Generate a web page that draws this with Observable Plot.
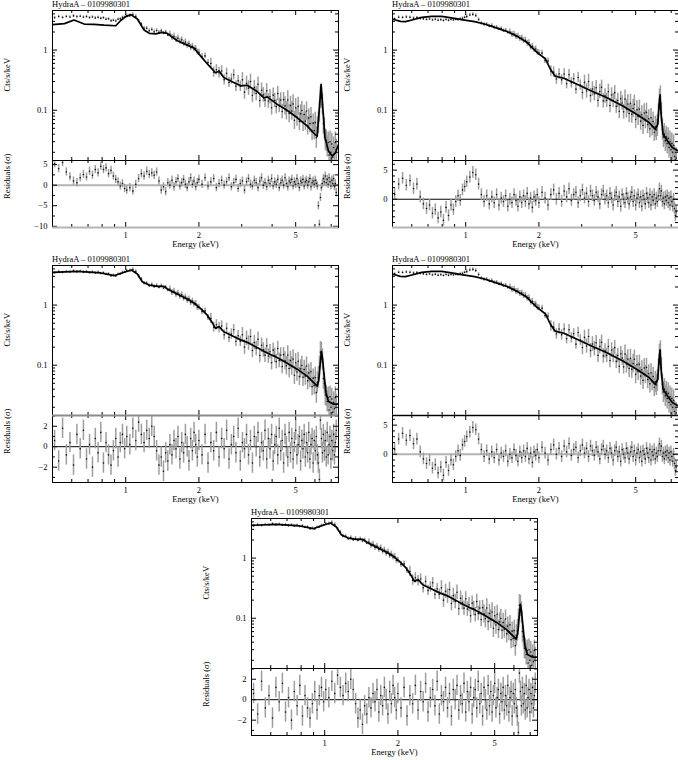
<!DOCTYPE html>
<html><head><meta charset="utf-8">
<script src="https://cdn.jsdelivr.net/npm/d3@7"></script>
<script src="https://cdn.jsdelivr.net/npm/@observablehq/plot@0.6"></script>
<style>
body{margin:0;background:#fff;}
#root{position:relative;width:678px;height:760px;overflow:hidden;background:#fff;font-family:"Liberation Serif","DejaVu Serif",serif;color:#000;}
.title{position:absolute;font-size:8.5px;line-height:9px;white-space:nowrap;}
</style></head><body><div id="root"></div>
<script>
// ---------- data ----------
const titleText = "HydraA \u2013 0109980301";
const xLabel = "Energy (keV)";
const specLabel = "Cts/s/keV";
const resLabel = "Residuals (\u03c3)";

const energies = [
0.51,0.53,0.55,0.57,0.59,0.61,0.63,0.65,0.67,0.69,
0.71,0.73,0.75,0.77,0.79,0.81,0.83,0.85,0.87,0.89,
0.91,0.93,0.95,0.97,0.99,
1.01,1.04,1.07,1.10,1.13,1.16,1.19,1.22,1.25,1.28,
1.31,1.34,1.37,1.40,1.43,1.46,1.49,1.52,1.55,1.58,
1.61,1.64,1.67,1.70,1.73,1.76,1.79,1.82,1.85,1.88,
1.91,1.94,1.97,
2.00,2.06,2.12,2.18,2.24,2.30,2.36,2.42,2.48,2.54,
2.60,2.66,2.72,2.78,2.84,2.90,2.96,3.02,3.08,3.14,
3.20,3.26,3.32,3.38,3.44,3.50,3.56,3.62,3.68,3.74,
3.80,3.86,3.92,3.98,4.04,4.10,4.16,4.22,4.28,4.34,
4.40,4.46,4.52,4.58,4.64,4.70,4.76,4.82,4.88,4.94,
5.00,5.06,5.12,5.18,5.24,5.30,5.36,5.42,5.48,5.54,
5.60,5.66,5.72,5.78,5.84,5.90,5.96,6.02,6.08,6.14,
6.20,6.26,6.32,6.38,6.44,6.50,6.56,6.62,6.68,6.74,
6.80,6.86,6.92,6.98,7.04,7.10,7.16,7.22,7.28,7.34];

// observation A (left panels and bottom panel)
const countsA = [
3.45,3.60,3.48,3.62,3.55,3.70,3.58,3.66,3.52,3.60,
3.46,3.55,3.42,3.50,3.36,3.44,3.25,3.30,3.06,3.14,
3.05,3.26,3.30,3.50,3.52,
3.70,3.72,3.90,3.60,3.02,2.70,2.30,2.30,2.10,2.20,
2.02,2.12,1.98,2.10,1.92,2.00,1.78,1.85,1.62,1.70,
1.50,1.58,1.40,1.48,1.30,1.36,1.20,1.27,1.10,1.16,
1.04,1.06,0.92,
0.92,0.78,0.80,0.62,0.60,0.43,0.47,0.42,0.45,0.32,
0.41,0.29,0.33,0.39,0.25,0.31,0.25,0.32,0.20,0.28,
0.233,0.30,0.176,0.238,0.19,0.27,0.145,0.215,0.18,0.147,
0.21,0.142,0.168,0.11,0.178,0.145,0.115,0.19,0.12,0.148,
0.095,0.15,0.118,0.098,0.148,0.088,0.12,0.097,0.127,0.068,
0.11,0.077,0.116,0.065,0.087,0.099,0.063,0.085,0.066,0.097,
0.055,0.074,0.06,0.078,0.044,0.061,0.046,0.062,0.035,0.052,
0.062,0.095,0.165,0.16,0.125,0.06,0.05,0.032,0.031,0.025,
0.029,0.018,0.03,0.02,0.0275,0.0165,0.024,0.019,0.029,0.022];

// observation B (right panels)
const countsB = [
3.30,3.52,3.48,3.55,3.50,3.40,3.46,3.34,3.30,3.22,
3.28,3.16,3.24,3.12,3.20,3.10,3.22,3.12,3.22,3.16,
3.24,3.20,3.30,3.38,3.50,
3.60,3.82,3.92,3.74,3.22,2.78,2.66,2.68,2.52,2.56,
2.38,2.40,2.24,2.28,2.10,2.14,1.96,2.00,1.82,1.84,
1.68,1.70,1.56,1.58,1.44,1.46,1.30,1.32,1.12,1.16,
1.02,1.04,0.92,
0.90,0.89,0.67,0.66,0.45,0.43,0.33,0.40,0.32,0.40,
0.276,0.39,0.285,0.333,0.224,0.35,0.262,0.197,0.29,0.209,
0.30,0.175,0.226,0.188,0.237,0.146,0.204,0.24,0.143,0.173,
0.146,0.205,0.12,0.179,0.145,0.196,0.116,0.145,0.096,0.155,
0.132,0.094,0.153,0.105,0.127,0.088,0.13,0.086,0.107,0.126,
0.07,0.102,0.079,0.104,0.066,0.084,0.056,0.09,0.07,0.092,
0.058,0.072,0.049,0.075,0.053,0.065,0.043,0.053,0.047,0.055,
0.085,0.15,0.17,0.09,0.048,0.036,0.04,0.031,0.036,0.028,
0.034,0.024,0.03,0.022,0.028,0.02,0.026,0.017,0.015,0.016];

// fractional error half-width of the spectrum points, by energy band (upper band edge)
const errUpTo = [1.0, 1.5, 2.2, 3.0, 4.5, 6.0, 7.5];
const errFrac = [0.05, 0.07, 0.12, 0.22, 0.32, 0.42, 0.5];

// models
const model1E = [0.5,0.56,0.613,0.675,0.74,0.815,0.91,0.954,1.0,1.05,1.117,1.19,1.25,1.33,1.41,1.48,1.63,1.79,1.91,2.03,2.2,2.34,2.42,2.53,2.78,2.97,3.16,3.47,3.7,3.82,4.19,4.61,5.07,5.57,6.03,6.13,6.29,6.36,6.42,6.6,6.82,7.06,7.29,7.5];
const model1V = [2.64,2.75,3.16,2.71,2.68,2.6,2.54,3.1,3.6,3.88,3.28,2.15,1.9,1.86,1.97,1.9,1.43,1.21,1.08,0.8,0.55,0.42,0.45,0.35,0.29,0.255,0.26,0.205,0.16,0.167,0.126,0.1,0.075,0.055,0.039,0.037,0.143,0.27,0.163,0.035,0.021,0.0173,0.0196,0.027];
const model3E = [0.5,0.633,0.79,0.896,1.0,1.055,1.117,1.17,1.247,1.35,1.437,1.483,1.63,1.79,1.91,2.03,2.165,2.27,2.34,2.42,2.53,2.78,2.97,3.16,3.47,3.7,3.82,4.19,4.61,5.07,5.57,6.03,6.13,6.22,6.3,6.38,6.45,6.52,6.66,6.82,7.17,7.5];
const model3V = [3.5,3.64,3.42,3.08,3.59,3.83,3.28,2.45,2.15,2.05,2.05,1.85,1.53,1.26,1.08,0.88,0.68,0.51,0.41,0.44,0.36,0.30,0.264,0.24,0.197,0.17,0.16,0.134,0.108,0.086,0.066,0.048,0.045,0.055,0.1,0.17,0.13,0.08,0.035,0.025,0.0225,0.0225];
const modelBE = [0.5,0.511,0.539,0.565,0.601,0.66,0.725,0.796,0.874,0.96,1.088,1.195,1.354,1.487,1.63,1.79,1.85,1.97,2.13,2.23,2.33,2.53,2.77,3.24,3.79,4.43,5.18,5.69,6.02,6.16,6.25,6.3,6.36,6.48,6.75,7.07,7.5];
const modelBV = [3.25,3.2,3.0,2.97,3.16,3.5,3.64,3.64,3.42,3.2,2.97,2.71,2.3,2.02,1.69,1.34,1.15,0.91,0.71,0.48,0.37,0.34,0.29,0.215,0.163,0.118,0.08,0.062,0.048,0.058,0.134,0.18,0.086,0.04,0.031,0.024,0.021];

// residuals (sigma)
const resid1 = [
5.2,4.0,5.5,3.2,2.0,1.0,0.6,1.8,2.6,2.0,
3.4,2.4,3.8,3.0,4.6,3.8,4.2,2.8,3.6,2.2,
1.4,0.8,-0.2,0.4,-0.8,
-1.2,-0.6,-1.4,0.2,1.6,2.8,2.2,3.4,2.6,3.0,
2.4,3.2,1.0,-1.2,-0.4,-1.6,0.6,0.0,1.2,-0.4,
0.8,1.6,-0.2,0.6,1.4,0.2,-0.6,0.8,1.8,0.2,
1.0,-0.4,0.6,
1.4,0.2,1.8,-0.2,0.8,1.6,-0.6,0.4,1.2,0.0,
0.8,1.8,-0.4,0.6,1.4,-0.8,0.4,1.0,-1.2,0.8,
1.6,0.2,-0.2,1.2,0.6,-0.6,1.0,1.8,0.0,0.6,
-0.4,1.2,0.4,1.6,-0.2,0.8,0.2,1.4,-0.6,0.6,
1.2,0.0,1.8,0.4,-0.4,1.0,0.6,1.4,-0.2,0.8,
0.2,1.6,0.4,-0.6,1.0,0.6,1.4,-0.2,0.8,1.2,
0.0,0.8,1.6,-0.4,0.6,1.0,0.2,1.2,0.4,-0.2,
-5.0,-9.5,-3.0,-0.6,0.4,1.6,0.8,2.2,0.6,1.4,
0.2,1.8,0.8,-0.2,1.2,0.4,1.6,-0.4,0.4,-1.8];
const resid2 = [
0.8,2.6,3.6,2.4,3.2,1.8,2.6,0.4,-0.8,-1.6,
-1.0,-2.4,-1.8,-3.2,-2.2,-3.6,-1.4,-2.8,-1.0,-1.8,
-0.4,0.6,-0.2,1.6,2.2,
3.0,3.8,4.6,4.2,2.6,0.8,-0.4,0.6,-0.8,0.4,
-0.6,0.8,-1.0,0.2,-0.4,0.6,-1.2,0.0,-0.6,0.8,
-0.2,-1.2,0.4,-0.6,0.6,-0.4,1.0,-0.8,0.2,-1.4,
0.4,-0.2,0.8,
-0.6,1.2,0.2,-1.0,0.8,1.6,0.0,1.0,-0.4,1.4,
0.4,1.8,-0.2,0.8,1.2,-0.6,0.6,1.6,0.2,1.0,
-0.4,1.4,0.6,-0.2,1.2,0.4,-0.8,0.8,1.4,0.0,
0.6,-0.6,1.0,0.2,-1.0,0.6,1.2,-0.4,0.4,-1.2,
0.8,0.0,-0.6,1.0,0.2,-0.8,0.4,1.2,-0.4,0.6,
-1.0,0.2,0.8,-0.6,0.4,-1.2,0.6,0.0,-0.8,1.0,
0.2,-0.6,0.8,-1.0,0.4,-0.2,0.8,-0.8,0.2,-0.4,
0.6,1.8,0.6,1.4,-0.4,0.2,-0.8,0.4,-0.2,0.6,
-0.6,0.2,-1.0,0.4,-0.4,-1.2,0.0,-1.6,-2.8,-2.2];
const resid3 = [
0.6,-1.4,1.8,-0.8,0.4,-1.8,1.2,-0.2,1.6,-1.2,
0.2,-2.0,0.8,-0.6,1.4,-1.6,0.4,-0.8,-1.8,-0.4,
0.8,-1.0,0.4,1.2,-0.2,
1.0,0.2,1.8,0.6,2.4,1.2,0.4,1.6,0.8,2.0,
1.0,-0.4,-1.8,-1.0,-2.4,-0.6,-1.4,0.2,-0.8,0.6,
-0.2,1.0,-1.2,0.4,-0.6,1.2,0.0,-1.4,0.8,-0.4,
1.4,0.2,-1.0,
0.6,-0.8,1.2,-1.6,0.4,-0.4,1.4,-1.0,0.8,-0.2,
1.6,-1.2,0.2,1.0,-0.6,1.8,-1.4,0.4,-0.2,1.2,
-0.8,0.6,-1.6,1.0,0.0,1.4,-1.0,0.4,-0.4,1.6,
-1.2,0.8,-0.2,1.2,-1.4,0.2,1.0,-0.8,1.8,-0.4,
0.6,-1.6,1.2,0.0,-1.0,1.4,-0.6,0.8,-1.2,0.4,
1.6,-0.8,0.2,1.0,-1.4,0.6,-0.2,1.2,-1.0,0.4,
-0.6,1.4,-1.2,0.2,0.8,-1.6,0.6,-0.4,1.0,-0.8,
-1.6,-3.2,2.6,0.8,-0.6,1.2,-0.4,0.6,-1.0,1.4,
-0.8,0.2,1.0,-1.2,0.6,-0.4,1.2,-0.8,0.4,1.6];

// axes
const xDomain = [0.5, 7.5];
const xMajor = [1, 2, 5];
const xMinor = [0.6, 0.7, 0.8, 0.9, 3, 4, 6, 7];
const specDomain = [0.0146, 4.55];
const specMajor = [0.1, 1];
const specMajorText = ["0.1", "1"];
const specMinor = [0.02,0.03,0.04,0.05,0.06,0.07,0.08,0.09,0.2,0.3,0.4,0.5,0.6,0.7,0.8,0.9,2,3,4];

// ---------- drawing ----------
const W = 286, SH = 150, RH = 67, ML = 56, MR = 6, MT = 2, RMB = 28;
const root = document.getElementById("root");
const baseStyle = {background:"transparent", maxWidth:"none", overflow:"visible",
  fontFamily:'"Liberation Serif","DejaVu Serif",serif', fontSize:"8.5px", color:"#000"};
const barColor = "#9e9e9e";

function place(node, left, top) {
  node.style.position = "absolute";
  node.style.left = left + "px";
  node.style.top = top + "px";
  root.appendChild(node);
}
function fracFor(e) {
  for (let k = 0; k < errUpTo.length; k++) if (e <= errUpTo[k]) return errFrac[k];
  return errFrac[errFrac.length - 1];
}
function edgeTicksX(vals, len, H) {
  return [Plot.tickX(vals, {x: d => d, insetBottom: H - len, stroke: "#000"}),
          Plot.tickX(vals, {x: d => d, insetTop: H - len, stroke: "#000"})];
}
function edgeTicksY(vals, len) {
  return [Plot.tickY(vals, {y: d => d, insetRight: W - len, stroke: "#000"}),
          Plot.tickY(vals, {y: d => d, insetLeft: W - len, stroke: "#000"})];
}
const fmt = d => d < 0 ? "\u2212" + (-d) : String(d);

function panel(p) {
  const pts = energies.map((e, i) => ({e, c: p.counts[i], f: fracFor(e)})).filter(d => d.c != null);
  const model = p.mE.map((e, i) => ({e, v: p.mV[i]}));
  const res = energies.map((e, i) => ({e, r: p.res[i]})).filter(d => d.r != null);

  const t = document.createElement("div");
  t.className = "title"; t.textContent = titleText;
  place(t, p.left, p.top - 10);

  const spec = Plot.plot({
    width: ML + W + MR, height: MT + SH + 1,
    marginLeft: ML, marginRight: MR, marginTop: MT, marginBottom: 1,
    style: baseStyle,
    x: {type: "log", domain: xDomain, axis: null},
    y: {type: "log", domain: specDomain, axis: null},
    marks: [
      Plot.ruleX(pts, {x: "e", y1: d => d.c / (1 + d.f), y2: d => d.c * (1 + d.f), stroke: barColor, strokeWidth: 1.5, clip: true}),
      Plot.dot(pts, {x: "e", y: "c", r: 0.8, fill: "#111", stroke: null, clip: true}),
      Plot.line(model, {x: "e", y: "v", stroke: "#000", strokeWidth: 1.7, clip: true}),
      ...edgeTicksX(xMajor, 5, SH), ...edgeTicksX(xMinor, 3, SH),
      ...edgeTicksY(specMajor, 5), ...edgeTicksY(specMinor, 3),
      Plot.frame({stroke: "#000"}),
      p.specBottomGray ? Plot.ruleY([specDomain[0]], {stroke: "#8a8a8a", strokeWidth: 2.2}) : null,
      Plot.text(specMajor, {y: d => d, text: (d, i) => specMajorText[i], frameAnchor: "left", textAnchor: "end", dx: -5, fill: "#000"}),
      Plot.text([specLabel], {frameAnchor: "left", rotate: -90, dx: -45, dy: 6, fill: "#000"})
    ]
  });
  place(spec, p.left - ML, p.top - MT);

  const resp = Plot.plot({
    width: ML + W + MR, height: 1 + RH + RMB,
    marginLeft: ML, marginRight: MR, marginTop: 1, marginBottom: RMB,
    style: baseStyle,
    x: {type: "log", domain: xDomain, axis: null},
    y: {domain: p.resDomain, axis: null},
    marks: [
      Plot.ruleY([0], {stroke: p.zeroStroke, strokeWidth: p.zeroWidth}),
      Plot.ruleX(res, {x: "e", y1: d => d.r - 1, y2: d => d.r + 1, stroke: barColor, strokeWidth: 1.5, clip: true}),
      Plot.dot(res, {x: "e", y: "r", r: 0.8, fill: "#111", stroke: null, clip: true}),
      ...edgeTicksX(xMajor, 5, RH), ...edgeTicksX(xMinor, 3, RH),
      ...edgeTicksY(p.resMajor, 5), ...edgeTicksY(p.resMinor, 3),
      Plot.frame({stroke: "#000"}),
      p.resBottomGray ? Plot.ruleY([p.resDomain[0]], {stroke: "#b4b4b4", strokeWidth: 2.2}) : null,
      p.resTopGray ? Plot.ruleY([p.resDomain[1]], {stroke: "#8a8a8a", strokeWidth: 2.2}) : null,
      Plot.text(p.resMajor, {y: d => d, text: d => fmt(d), frameAnchor: "left", textAnchor: "end", dx: -5, fill: "#000"}),
      Plot.text([resLabel], {frameAnchor: "left", rotate: -90, dx: -45, dy: 5, fill: "#000"}),
      Plot.text(xMajor, {x: d => d, text: d => String(d), frameAnchor: "bottom", dy: 10, fill: "#000"}),
      Plot.text([xLabel], {frameAnchor: "bottom", dy: 19, fill: "#000"})
    ]
  });
  place(resp, p.left - ML, p.top + SH - 1);
}

const panels = [
  {left: 52, top: 10, counts: countsA, mE: model1E, mV: model1V, res: resid1,
   resDomain: [-10.3, 6.0], resMajor: [5, 0, -5, -10], resMinor: [2.5, -2.5, -7.5],
   zeroStroke: "#b4b4b4", zeroWidth: 2, resBottomGray: true},
  {left: 392, top: 10, counts: countsB, mE: modelBE, mV: modelBV, res: resid2,
   resDomain: [-4.85, 6.65], resMajor: [5, 0], resMinor: [-4, -3, -2, -1, 1, 2, 3, 4, 6],
   zeroStroke: "#000", zeroWidth: 1, resBottomGray: true},
  {left: 52, top: 265, counts: countsA, mE: model3E, mV: model3V, res: resid3,
   resDomain: [-3.5, 3.05], resMajor: [2, 0, -2], resMinor: [-3, -1, 1, 3],
   zeroStroke: "#000", zeroWidth: 1, resTopGray: true},
  {left: 392, top: 265, counts: countsB, mE: modelBE, mV: modelBV, res: resid2,
   resDomain: [-4.85, 6.65], resMajor: [5, 0], resMinor: [-4, -3, -2, -1, 1, 2, 3, 4, 6],
   zeroStroke: "#b4b4b4", zeroWidth: 2, specBottomGray: true},
  {left: 251, top: 518, counts: countsA, mE: model3E, mV: model3V, res: resid3,
   resDomain: [-3.5, 3.05], resMajor: [2, 0, -2], resMinor: [-3, -1, 1, 3],
   zeroStroke: "#000", zeroWidth: 1}
];
panels.forEach(panel);
</script></body></html>
